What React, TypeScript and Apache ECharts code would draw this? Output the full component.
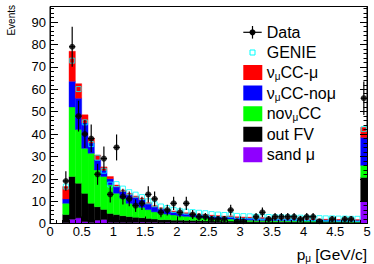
import React, { useEffect, useRef } from "react";
import * as echarts from "echarts";

const FONT = "'Liberation Sans', Arial, Helvetica, sans-serif";

// Bin lower edges (GeV/c), width 0.1
const binLow = [
  0.2, 0.3, 0.4, 0.5, 0.6, 0.7, 0.8, 0.9, 1.0, 1.1, 1.2, 1.3, 1.4, 1.5, 1.6, 1.7,
  1.8, 1.9, 2.0, 2.1, 2.2, 2.3, 2.4, 2.5, 2.6, 2.7, 2.8, 2.9, 3.0, 3.1, 3.2, 3.3,
  3.4, 3.5, 3.6, 3.7, 3.8, 3.9, 4.0, 4.1, 4.2, 4.3, 4.4, 4.5, 4.6, 4.7, 4.8, 4.9,
];
const binWidth = 0.1;

// Stacked MC components (bottom to top)
const sandMu = [
  0.3, 1.9, 2.5, 0.8, 0.5, 1.5, 1.8, 0.5, 0.4, 0.5, 0.4, 0.5, 0.6, 0.5, 0.5, 0.4,
  0.5, 0.4, 0.5, 0.4, 0.5, 0.4, 0.4, 0.4, 0.4, 0.3, 0.4, 0.3, 0.4, 0.3, 0.3, 0.4,
  0.3, 0.3, 0.4, 0.3, 0.3, 0.3, 0.3, 0.3, 0.3, 0.3, 0.3, 0.3, 0.3, 0.3, 0.3, 10.0,
];
const outFV = [
  3.7, 19.1, 15.5, 12.7, 8.5, 6.0, 4.5, 4.0, 3.6, 3.0, 2.7, 2.3, 2.0, 1.8, 1.5, 1.3,
  1.2, 1.1, 1.0, 1.0, 0.9, 0.9, 0.8, 0.8, 0.7, 0.7, 0.7, 0.6, 0.6, 0.6, 0.6, 0.5,
  0.5, 0.5, 0.5, 0.5, 0.5, 0.4, 0.4, 0.4, 0.4, 0.4, 0.4, 0.4, 0.4, 0.3, 0.3, 10.6,
];
const noNumuCC = [
  5.0, 31.1, 24.0, 20.1, 22.4, 16.4, 14.7, 12.8, 9.5, 7.8, 5.9, 5.5, 4.6, 3.9, 3.2, 2.9,
  2.5, 2.3, 1.9, 1.8, 1.6, 1.3, 1.3, 1.0, 0.9, 0.9, 0.9, 0.7, 0.6, 0.6, 0.5, 0.5,
  0.5, 0.5, 0.4, 0.4, 0.4, 0.4, 0.4, 0.4, 0.4, 0.3, 0.3, 0.3, 0.3, 0.3, 0.3, 5.4,
];
const numuCCnoMu = [
  2.0, 11.5, 14.0, 11.4, 4.6, 4.6, 2.8, 2.7, 2.9, 3.0, 3.8, 3.4, 3.5, 2.6, 2.3, 2.0,
  1.7, 1.4, 1.3, 1.3, 1.3, 1.4, 1.3, 1.2, 1.2, 1.1, 1.1, 1.1, 1.0, 1.0, 0.9, 0.9,
  0.9, 0.8, 0.8, 0.8, 0.8, 0.8, 0.7, 0.7, 0.7, 0.7, 0.7, 0.6, 0.6, 0.6, 0.6, 12.5,
];
const numuCCmu = [
  5.5, 13.4, 6.5, 3.6, 2.2, 2.1, 1.5, 1.0, 0.8, 0.7, 0.7, 0.6, 0.6, 0.5, 0.5, 0.4,
  0.4, 0.4, 0.3, 0.3, 0.3, 0.3, 0.3, 0.3, 0.3, 0.3, 0.3, 0.3, 0.3, 0.3, 0.3, 0.3,
  0.3, 0.3, 0.3, 0.3, 0.2, 0.3, 0.3, 0.2, 0.2, 0.2, 0.2, 0.2, 0.2, 0.2, 0.2, 4.5,
];

// GENIE prediction
const genie = [
  16.5, 72.8, 60.1, 45.2, 35.5, 29.4, 23.6, 17.4, 17.6, 15.6, 14.0, 12.9, 11.8, 9.9, 8.6, 7.6,
  6.9, 6.1, 5.5, 5.3, 5.1, 4.8, 4.6, 4.2, 4.0, 3.8, 3.9, 3.4, 3.3, 3.2, 3.0, 3.0,
  2.9, 2.8, 2.8, 2.7, 2.6, 2.6, 2.5, 2.4, 2.4, 2.3, 2.3, 2.2, 2.2, 2.1, 2.1, 42.2,
];

// Data counts and errors
const dataCounts = [
  19, 79, 48, 40, 38, 22, 29, 13, 34, 12, 11, 8, 9, 13, 11, 5,
  6, 9, 5, 9, 4, 3, 3, 2, 2, 2, 6, 1, 1, 0, 3, 5,
  2, 3, 3, 3, 3, 2, 3, 3, 1, 0, 2, 0, 2, 2, 0, 56,
];
const dataErr = [
  4.4, 8.9, 6.9, 6.3, 6.2, 4.7, 5.4, 3.6, 5.8, 3.5, 3.3, 2.8, 3.0, 3.6, 3.3, 2.2,
  2.4, 3.0, 2.2, 3.0, 2.0, 1.7, 1.7, 1.4, 1.4, 1.4, 2.4, 1.0, 1.0, 0, 1.7, 2.2,
  1.4, 1.7, 1.7, 1.7, 1.7, 1.4, 1.7, 1.7, 1.0, 0, 1.4, 0, 1.4, 1.4, 0, 7.5,
];

const yTicksMajor = 10;
const yTicksMinor = 2;
const xTicksMajor = 0.5;
const xTicksMinor = 0.1;

const C_PURPLE = "#8f00ff";
const C_BLACK = "#000000";
const C_GREEN = "#00ff00";
const C_BLUE = "#0000ff";
const C_RED = "#ff0000";
const C_CYAN = "#00ffff";

const layers = [
  { name: "sand μ", values: sandMu, color: C_PURPLE },
  { name: "out FV", values: outFV, color: C_BLACK },
  { name: "noνμCC", values: noNumuCC, color: C_GREEN },
  { name: "νμCC-noμ", values: numuCCnoMu, color: C_BLUE },
  { name: "νμCC-μ", values: numuCCmu, color: C_RED },
];

const GRID = { left: 50, right: 7, top: 6.5, bottom: 40.5 };

export default function App() {
  const ref = useRef<HTMLDivElement>(null);
  useEffect(() => {
    if (!ref.current) return;
    const chart = echarts.init(ref.current, undefined, { renderer: "svg" });

    const base = binLow.map(() => 0);
    const stackSeries = layers.map((l) => {
      const data = binLow.map((x0, i) => {
        const b = base[i];
        const t = b + l.values[i];
        base[i] = t;
        return [x0, x0 + binWidth, b, t];
      });
      return {
        type: "custom",
        name: l.name,
        xAxisIndex: 0,
        yAxisIndex: 0,
        z: 2,
        silent: true,
        encode: { x: [0, 1], y: [2, 3] },
        data,
        renderItem: (_p: any, api: any) => {
          const a = api.coord([api.value(0), api.value(3)]);
          const b = api.coord([api.value(1), api.value(2)]);
          return {
            type: "rect",
            shape: { x: a[0], y: a[1], width: b[0] - a[0], height: b[1] - a[1] },
            style: { fill: l.color, stroke: l.color, lineWidth: 0.4 },
          };
        },
      };
    });

    const centers = binLow.map((x0) => x0 + binWidth / 2);
    const genieData = centers.map((c, i) => [c, genie[i]]);
    const dataPts: number[][] = [];
    const errData: number[][] = [];
    centers.forEach((c, i) => {
      if (dataCounts[i] > 0) {
        dataPts.push([c, dataCounts[i]]);
        errData.push([c, dataCounts[i], dataErr[i], binLow[i], binLow[i] + binWidth]);
      }
    });

    const richLegend = {
      n: { fontSize: 16, fontFamily: FONT, color: "#000", lineHeight: 18 },
      s: { fontSize: 10, fontFamily: FONT, color: "#000", lineHeight: 10, verticalAlign: "bottom" },
    };

    const legendRows = [
      { y: 72.5, color: C_RED, text: "{n|ν}{s|μ}{n|CC-μ}" },
      { y: 93, color: C_BLUE, text: "{n|ν}{s|μ}{n|CC-noμ}" },
      { y: 113.8, color: C_GREEN, text: "{n|noν}{s|μ}{n|CC}" },
      { y: 134.3, color: C_BLACK, text: "{n|out FV}" },
      { y: 154.8, color: C_PURPLE, text: "{n|sand μ}" },
    ];

    const graphics: any[] = [];
    // Data legend entry
    graphics.push({ type: "line", shape: { x1: 243.3, y1: 32.3, x2: 261.7, y2: 32.3 }, style: { stroke: "#000", lineWidth: 1.2 } });
    graphics.push({ type: "line", shape: { x1: 252.5, y1: 26, x2: 252.5, y2: 38.6 }, style: { stroke: "#000", lineWidth: 1.2 } });
    graphics.push({ type: "circle", shape: { cx: 252.5, cy: 32.3, r: 3 }, style: { fill: "#000" } });
    graphics.push({ type: "text", x: 266.7, y: 32.3, style: { text: "Data", fontSize: 16, fontFamily: FONT, fill: "#000", align: "left", verticalAlign: "middle" } });
    // GENIE legend entry
    graphics.push({ type: "rect", shape: { x: 250, y: 50, width: 5, height: 5 }, style: { fill: "none", stroke: C_CYAN, lineWidth: 1 } });
    graphics.push({ type: "text", x: 266.7, y: 52.5, style: { text: "GENIE", fontSize: 16, fontFamily: FONT, fill: "#000", align: "left", verticalAlign: "middle" } });
    legendRows.forEach((r) => {
      graphics.push({ type: "rect", shape: { x: 243.3, y: r.y - 7.5, width: 19, height: 15 }, style: { fill: r.color } });
      graphics.push({ type: "text", x: 266.7, y: r.y, style: { text: r.text, rich: richLegend, align: "left", verticalAlign: "middle" } });
    });
    // Axis titles
    graphics.push({
      type: "text", x: 11, y: 5, rotation: Math.PI / 2,
      style: { text: "Events", fontSize: 10, fontFamily: FONT, fill: "#000", align: "right", verticalAlign: "middle" },
    });
    graphics.push({
      type: "text", x: 367, y: 254,
      style: {
        text: "{n|p}{s|μ}{n| [GeV/c]}",
        align: "right", verticalAlign: "middle",
        rich: {
          n: { fontSize: 15.5, fontFamily: FONT, color: "#000", lineHeight: 18 },
          s: { fontSize: 10, fontFamily: FONT, color: "#000", lineHeight: 10, verticalAlign: "bottom" },
        },
      },
    });

    const tickLine = { color: "#000", width: 1 };
    const hiddenLabel = { show: false };

    const option: any = {
      animation: false,
      backgroundColor: "#fff",
      grid: [
        { ...GRID, show: true, borderColor: "#000", borderWidth: 1, backgroundColor: "transparent" },
        { ...GRID, show: false },
      ],
      xAxis: [
        {
          gridIndex: 0, type: "value", position: "bottom", min: 0, max: 5, interval: xTicksMajor, z: 10,
          axisLine: { show: true, lineStyle: tickLine },
          axisTick: { show: true, inside: true, length: 7, lineStyle: tickLine },
          axisLabel: { show: true, fontSize: 13, fontFamily: FONT, color: "#000", margin: 1.5 },
          splitLine: { show: false },
        },
        {
          gridIndex: 1, type: "value", position: "bottom", min: 0, max: 5, interval: xTicksMinor, z: 10,
          axisLine: { show: false },
          axisTick: { show: true, inside: true, length: 3.5, lineStyle: tickLine },
          axisLabel: hiddenLabel,
          splitLine: { show: false },
        },
      ],
      yAxis: [
        {
          gridIndex: 0, type: "value", position: "left", min: 0, max: 97, interval: yTicksMajor, z: 10,
          axisLine: { show: true, lineStyle: tickLine },
          axisTick: { show: true, inside: true, length: 8, lineStyle: tickLine },
          axisLabel: {
            show: true, fontSize: 13, fontFamily: FONT, color: "#000", margin: 4, showMaxLabel: false,
            formatter: (v: number) => (v % 10 === 0 ? String(v) : ""),
          },
          splitLine: { show: false },
        },
        {
          gridIndex: 1, type: "value", position: "left", min: 0, max: 97, interval: yTicksMinor, z: 10,
          axisLine: { show: false },
          axisTick: { show: true, inside: true, length: 4, lineStyle: tickLine },
          axisLabel: hiddenLabel,
          splitLine: { show: false },
        },
        {
          gridIndex: 0, type: "value", position: "right", min: 0, max: 97, interval: yTicksMajor, z: 10,
          axisLine: { show: true, lineStyle: tickLine },
          axisTick: { show: true, inside: true, length: 7, lineStyle: tickLine },
          axisLabel: hiddenLabel,
          splitLine: { show: false },
        },
        {
          gridIndex: 1, type: "value", position: "right", min: 0, max: 97, interval: yTicksMinor, z: 10,
          axisLine: { show: false },
          axisTick: { show: true, inside: true, length: 3.5, lineStyle: tickLine },
          axisLabel: hiddenLabel,
          splitLine: { show: false },
        },
      ],
      series: [
        ...stackSeries,
        {
          type: "scatter", name: "GENIE", xAxisIndex: 0, yAxisIndex: 0, z: 3, silent: true,
          symbol: "rect", symbolSize: 5,
          itemStyle: { color: "rgba(0,0,0,0)", borderColor: C_CYAN, borderWidth: 1 },
          data: genieData,
        },
        {
          type: "custom", name: "DataErr", xAxisIndex: 0, yAxisIndex: 0, z: 4, silent: true,
          encode: { x: 0, y: 1 },
          data: errData,
          renderItem: (_p: any, api: any) => {
            const c = api.value(0), y = api.value(1), e = api.value(2);
            const top = api.coord([c, y + e]);
            const bot = api.coord([c, y - e]);
            const l = api.coord([api.value(3), y]);
            const r = api.coord([api.value(4), y]);
            return {
              type: "group",
              children: [
                { type: "line", shape: { x1: top[0], y1: top[1], x2: bot[0], y2: bot[1] }, style: { stroke: "#000", lineWidth: 1.2 } },
                { type: "line", shape: { x1: l[0], y1: l[1], x2: r[0], y2: r[1] }, style: { stroke: "#000", lineWidth: 1.2 } },
              ],
            };
          },
        },
        {
          type: "scatter", name: "Data", xAxisIndex: 0, yAxisIndex: 0, z: 5, silent: true,
          symbol: "circle", symbolSize: 6,
          itemStyle: { color: "#000" },
          data: dataPts,
        },
      ],
      graphic: graphics,
    };

    chart.setOption(option);
    return () => chart.dispose();
  }, []);

  return (
    <div
      ref={ref}
      style={{ position: "fixed", left: 0, top: 0, width: 374, height: 264, background: "#fff" }}
    />
  );
}
